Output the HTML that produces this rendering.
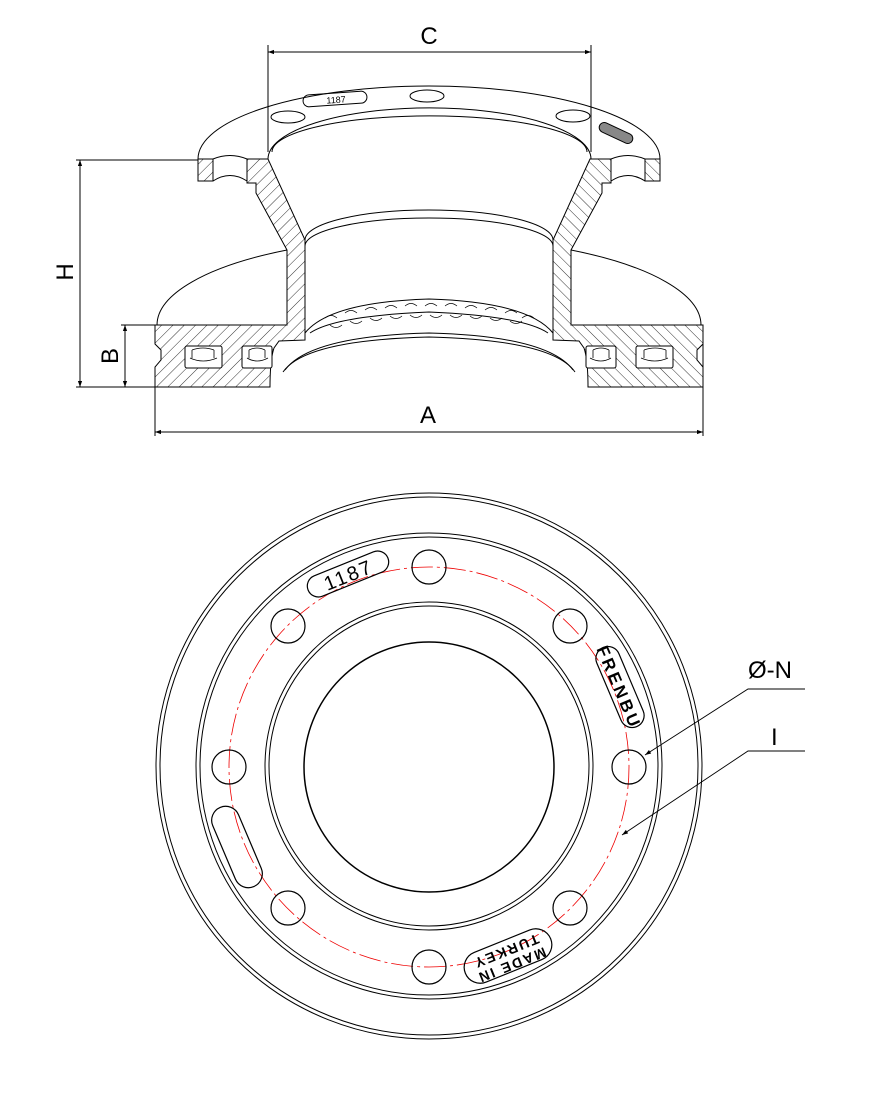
<!DOCTYPE html>
<html><head><meta charset="utf-8">
<style>
html,body{margin:0;padding:0;background:#fff;}
svg{display:block;}
text{font-family:"Liberation Sans",sans-serif;fill:#000;}
</style></head><body>
<svg width="876" height="1096" viewBox="0 0 876 1096" xmlns="http://www.w3.org/2000/svg">
<defs>
<pattern id="h" patternUnits="userSpaceOnUse" width="8" height="8" patternTransform="rotate(45)">
<rect width="8" height="8" fill="#fff"/>
<line x1="0" y1="0" x2="0" y2="8" stroke="#000" stroke-width="0.8"/>
</pattern>
<marker id="ar" viewBox="0 0 10 10" refX="10" refY="5" markerWidth="9" markerHeight="6" orient="auto-start-reverse" markerUnits="userSpaceOnUse">
<path d="M0,1.5 L10,5 L0,8.5 z" fill="#000"/>
</marker>
<g id="half">
  <path d="M198,159 L213,159 L213,181 L198,181 Z" fill="url(#h)" stroke="#000" stroke-width="1"/>
  <path d="M247,159 L268,159 L305,240 L305,340 L279,341 L274,348 Q270,360 270,387 L155,387 L155,367 L161,360 L161,350 L155,344 L155,325 L287,325 L287,250 L256,193 L256,183 L247,183 Z" fill="url(#h)" stroke="#000" stroke-width="1"/>
  <path d="M213,159 Q230,152 247,159" fill="none" stroke="#000" stroke-width="1"/>
  <path d="M213,181 Q230,170 247,181" fill="none" stroke="#000" stroke-width="1"/>
  <rect x="185" y="346" width="37" height="22" rx="2" fill="#fff" stroke="#000" stroke-width="1"/>
  <path d="M190,358 Q203,364 217,358 M192,350 L192,358 M214,350 L214,358 M192,350 Q203,346 214,350" fill="none" stroke="#000" stroke-width="0.8"/>
  <rect x="242" y="346" width="30" height="22" rx="2" fill="#fff" stroke="#000" stroke-width="1"/>
  <path d="M247,358 Q257,364 268,358 M249,350 L249,358 M265,350 L265,358 M249,350 Q257,346 265,350" fill="none" stroke="#000" stroke-width="0.8"/>
</g>
</defs>

<g fill="none" stroke="#000" stroke-width="1">
  <path d="M198,159 A231 73 0 0 1 660,159"/>
  <path d="M268,159 A161 51 0 0 1 591,159"/>
  <path d="M272,152 A157 36 0 0 1 587,152"/>
  <ellipse cx="288" cy="117" rx="17" ry="6"/>
  <ellipse cx="427" cy="96" rx="17" ry="6"/>
  <ellipse cx="573" cy="116" rx="17" ry="6"/>
  <rect x="303" y="93" width="64" height="12" rx="6" transform="rotate(-4 335 99)"/>
  <text x="336" y="103" font-size="9" text-anchor="middle" transform="rotate(-4 336 99)" fill="#555" stroke="none">1187</text>
  <rect x="598" y="128" width="36" height="10" rx="5" transform="rotate(25 616 133)" fill="#888"/>
  <path d="M305,240 A124 30 0 0 1 553,240"/>
  <path d="M305,246 A124 28 0 0 1 553,246"/>
  <path d="M157,325 A272 88 0 0 1 287,250"/>
  <path d="M571,250 A272 88 0 0 1 701,325"/>
  <path d="M305,333 Q330,302 429,299 Q528,302 553,333"/>
  <path d="M310,333 Q335,316 429,312 Q523,316 548,333"/>
  <path d="M285,370 Q310,336 429,333 Q548,336 573,370"/>
  <path d="M283,372 Q305,340 429,337 Q553,340 575,372"/>
</g>
<g stroke="#000" stroke-width="0.7" fill="none">
  <path d="M325,318 q6,-5 12,0 M345,313 q6,-5 12,0 M365,310 q6,-5 12,0 M385,308 q6,-5 12,0 M405,306 q6,-5 12,0 M425,306 q6,-5 12,0 M445,306 q6,-5 12,0 M465,308 q6,-5 12,0 M485,310 q6,-5 12,0 M505,313 q6,-5 12,0 M522,318 q6,-5 12,0"/>
  <path d="M330,325 q6,5 12,0 M350,321 q6,5 12,0 M370,318 q6,5 12,0 M390,316 q6,5 12,0 M410,315 q6,5 12,0 M430,315 q6,5 12,0 M450,315 q6,5 12,0 M470,316 q6,5 12,0 M490,318 q6,5 12,0 M510,321 q6,5 12,0"/>
</g>

<use href="#half"/>
<use href="#half" transform="translate(858,0) scale(-1,1)"/>

<g stroke="#000" stroke-width="1" fill="none">
  <line x1="268" y1="45" x2="268" y2="152"/>
  <line x1="591" y1="45" x2="591" y2="152"/>
  <line x1="268" y1="52" x2="591" y2="52" marker-start="url(#ar)" marker-end="url(#ar)"/>
  <line x1="76" y1="160" x2="198" y2="160"/>
  <line x1="76" y1="387" x2="155" y2="387"/>
  <line x1="80" y1="160" x2="80" y2="387" marker-start="url(#ar)" marker-end="url(#ar)"/>
  <line x1="121" y1="325" x2="155" y2="325"/>
  <line x1="125" y1="325" x2="125" y2="387" marker-start="url(#ar)" marker-end="url(#ar)"/>
  <line x1="155" y1="387" x2="155" y2="436"/>
  <line x1="703" y1="325" x2="703" y2="436"/>
  <line x1="155" y1="432" x2="703" y2="432" marker-start="url(#ar)" marker-end="url(#ar)"/>
</g>
<text x="429" y="44" font-size="24" text-anchor="middle">C</text>
<text x="0" y="0" font-size="24" text-anchor="middle" transform="translate(73,272) rotate(-90)">H</text>
<text x="0" y="0" font-size="24" text-anchor="middle" transform="translate(118,356) rotate(-90)">B</text>
<text x="428" y="423" font-size="24" text-anchor="middle">A</text>

<g fill="none" stroke="#000" stroke-width="1">
  <circle cx="429" cy="766" r="273"/>
  <circle cx="429" cy="766" r="269"/>
  <circle cx="429" cy="766" r="233"/>
  <circle cx="429" cy="766" r="229"/>
  <circle cx="429" cy="766" r="164"/>
  <circle cx="429" cy="766" r="160"/>
  <circle cx="429" cy="767" r="125" stroke-width="1.5"/>
</g>
<circle cx="429" cy="767" r="200" fill="none" stroke="#e00" stroke-width="0.8" stroke-dasharray="22,4,3,4"/>
<g fill="none" stroke="#000" stroke-width="1.2">
  <circle cx="429" cy="567" r="17"/>
  <circle cx="570" cy="626" r="17"/>
  <circle cx="629" cy="767" r="17"/>
  <circle cx="570" cy="908" r="17"/>
  <circle cx="429" cy="967" r="17"/>
  <circle cx="288" cy="908" r="17"/>
  <circle cx="229" cy="767" r="17"/>
  <circle cx="288" cy="626" r="17"/>
  <rect x="305" y="563" width="86" height="22" rx="11" transform="rotate(-22 348 574)"/>
  <rect x="577" y="675" width="86" height="24" rx="12" transform="rotate(67 620 687)"/>
  <rect x="462" y="940" width="92" height="32" rx="16" transform="rotate(-22 508 956)"/>
  <rect x="194" y="833" width="86" height="28" rx="14" transform="rotate(67 237 847)"/>
</g>
<text x="348" y="582" font-size="20" text-anchor="middle" letter-spacing="2" transform="rotate(-22 348 574)">1187</text>
<text x="620" y="694" font-size="17" font-weight="bold" text-anchor="middle" letter-spacing="3" transform="rotate(67 620 687)">FRENBU</text>
<text x="508" y="951" font-size="14" font-weight="bold" text-anchor="middle" letter-spacing="2" transform="rotate(158 508 956)">MADE IN</text>
<text x="508" y="966" font-size="14" font-weight="bold" text-anchor="middle" letter-spacing="2" transform="rotate(158 508 956)">TURKEY</text>

<g stroke="#000" stroke-width="0.9" fill="none">
  <polyline points="805,689 748,689 645,755" marker-end="url(#ar)"/>
  <polyline points="805,751 748,751 622,835" marker-end="url(#ar)"/>
</g>
<text x="748" y="678" font-size="24">Ø-N</text>
<text x="771" y="745" font-size="24">I</text>
</svg>
</body></html>
